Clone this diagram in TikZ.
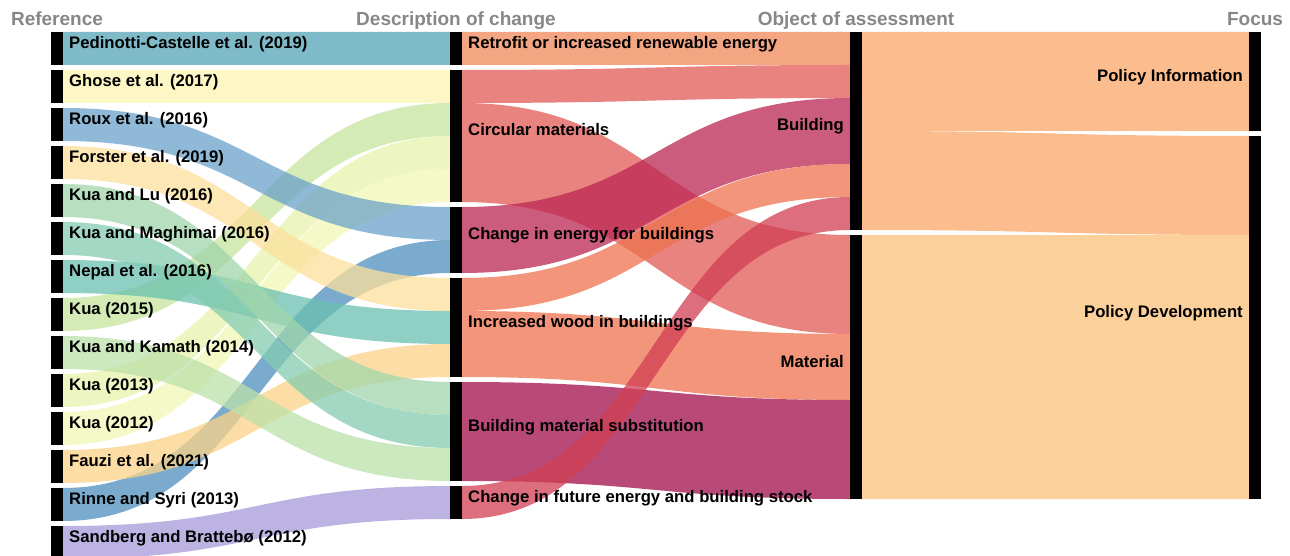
\documentclass[tikz,border=0pt]{standalone}
\usepackage{fontspec}
\setmainfont{Liberation Sans}
\usepackage{tikz}
\usetikzlibrary{positioning,backgrounds}

% reference colours
\definecolor{cPed}{RGB}{84,163,182}
\definecolor{cGho}{RGB}{251,244,176}
\definecolor{cRou}{RGB}{106,162,200}
\definecolor{cFor}{RGB}{252,224,156}
\definecolor{cKLu}{RGB}{160,214,171}
\definecolor{cKMa}{RGB}{132,204,176}
\definecolor{cNep}{RGB}{106,191,176}
\definecolor{cK15}{RGB}{198,228,158}
\definecolor{cKKa}{RGB}{187,224,168}
\definecolor{cK13}{RGB}{231,243,171}
\definecolor{cK12}{RGB}{242,247,182}
\definecolor{cFau}{RGB}{251,210,135}
\definecolor{cRin}{RGB}{78,142,188}
\definecolor{cSan}{RGB}{166,154,218}
% change colours
\definecolor{cRet}{RGB}{240,135,88}
\definecolor{cCir}{RGB}{224,90,85}
\definecolor{cEne}{RGB}{187,38,83}
\definecolor{cWoo}{RGB}{238,114,78}
\definecolor{cSub}{RGB}{162,14,75}
\definecolor{cFut}{RGB}{208,62,83}
% object colours
\definecolor{cBld}{RGB}{250,167,104}
\definecolor{cMat}{RGB}{250,192,122}
\definecolor{hdrgray}{RGB}{135,135,135}

% colour, source, source offset, target, target offset, units
\newcommand{\sflow}[6]{%
  \pgfmathsetmacro{\flowsa}{-#3*33}\pgfmathsetmacro{\flowsb}{-(#3+#6)*33}%
  \pgfmathsetmacro{\flowta}{-#5*33}\pgfmathsetmacro{\flowtb}{-(#5+#6)*33}%
  \fill[#1, ribbon] ([yshift=\flowsa]#2.north east) to[out=0, in=180, distance=194pt] ([yshift=\flowta]#4.north west)
    -- ([yshift=\flowtb]#4.north west) to[out=180, in=0, distance=194pt] ([yshift=\flowsb]#2.north east) -- cycle;}

\begin{document}
\begin{tikzpicture}[x=1pt, y=1pt, node distance=5pt,
    nodebar/.style={fill=black, inner sep=0pt, outer sep=0pt, minimum width=12pt, minimum height=#1*33pt},
    nodebar/.default=1,
    ribbon/.style={fill opacity=0.75},
    lbl/.style={font=\bfseries\fontsize{16.7}{20}\selectfont, anchor=base west, xshift=6pt, inner sep=0pt},
    lblr/.style={font=\bfseries\fontsize{16.7}{20}\selectfont, anchor=base east, xshift=-6pt, inner sep=0pt},
    hdr/.style={font=\bfseries\fontsize{19}{22}\selectfont, text=hdrgray, anchor=base, yshift=6pt, inner sep=0pt}]
    \useasboundingbox (0,0) rectangle (1290,-556);

    \node[nodebar] (pedinotti) at (57,-48.5) [label={[hdr]above:Reference}, label={[lbl]right:Pedinotti-Castelle et al. (2019)}] {};
    \node[nodebar] (ghose)    [below=of pedinotti, label={[lbl]right:Ghose et al. (2017)}] {};
    \node[nodebar] (roux)     [below=of ghose,     label={[lbl]right:Roux et al. (2016)}] {};
    \node[nodebar] (forster)  [below=of roux,      label={[lbl]right:Forster et al. (2019)}] {};
    \node[nodebar] (kualu)    [below=of forster,   label={[lbl]right:Kua and Lu (2016)}] {};
    \node[nodebar] (kuamag)   [below=of kualu,     label={[lbl]right:Kua and Maghimai (2016)}] {};
    \node[nodebar] (nepal)    [below=of kuamag,    label={[lbl]right:Nepal et al. (2016)}] {};
    \node[nodebar] (kua15)    [below=of nepal,     label={[lbl]right:Kua (2015)}] {};
    \node[nodebar] (kuakam)   [below=of kua15,     label={[lbl]right:Kua and Kamath (2014)}] {};
    \node[nodebar] (kua13)    [below=of kuakam,    label={[lbl]right:Kua (2013)}] {};
    \node[nodebar] (kua12)    [below=of kua13,     label={[lbl]right:Kua (2012)}] {};
    \node[nodebar] (fauzi)    [below=of kua12,     label={[lbl]right:Fauzi et al. (2021)}] {};
    \node[nodebar] (rinne)    [below=of fauzi,     label={[lbl]right:Rinne and Syri (2013)}] {};
    \node[nodebar] (sandberg) [below=of rinne,     label={[lbl]right:Sandberg and Brattebø (2012)}] {};

    \node[nodebar]   (retro)  at (456,-48.5) [label={[hdr]above:Description of change}, label={[lbl]right:Retrofit or increased renewable energy}] {};
    \node[nodebar=4] (circ)   [below=of retro,  label={[lbl]right:Circular materials}] {};
    \node[nodebar=2] (energy) [below=of circ,   label={[lbl]right:Change in energy for buildings}] {};
    \node[nodebar=3] (wood)   [below=of energy, label={[lbl]right:Increased wood in buildings}] {};
    \node[nodebar=3] (subst)  [below=of wood,   label={[lbl]right:Building material substitution}] {};
    \node[nodebar]   (future) [below=of subst,  label={[lbl]right:Change in future energy and building stock}] {};

    \node[nodebar=6] (bldg) at (856,-131) [label={[hdr]above:Object of assessment}, label={[lblr]left:Building}] {};
    \node[nodebar=8] (mat)  [below=of bldg, label={[lblr]left:Material}] {};

    \node[nodebar=3]  (pinfo) at (1255,-81.5) [label={[hdr]above:Focus}, label={[lblr]left:Policy Information}] {};
    \node[nodebar=11] (pdev)  [below=of pinfo, label={[lblr]left:Policy Development}] {};

    \begin{pgfonlayer}{background}
        \sflow{cPed}{pedinotti}{0}{retro}{0}{1}
        \sflow{cGho}{ghose}{0}{circ}{0}{1}
        \sflow{cK15}{kua15}{0}{circ}{1}{1}
        \sflow{cK13}{kua13}{0}{circ}{2}{1}
        \sflow{cK12}{kua12}{0}{circ}{3}{1}
        \sflow{cRou}{roux}{0}{energy}{0}{1}
        \sflow{cRin}{rinne}{0}{energy}{1}{1}
        \sflow{cFor}{forster}{0}{wood}{0}{1}
        \sflow{cNep}{nepal}{0}{wood}{1}{1}
        \sflow{cFau}{fauzi}{0}{wood}{2}{1}
        \sflow{cKLu}{kualu}{0}{subst}{0}{1}
        \sflow{cKMa}{kuamag}{0}{subst}{1}{1}
        \sflow{cKKa}{kuakam}{0}{subst}{2}{1}
        \sflow{cSan}{sandberg}{0}{future}{0}{1}

        \sflow{cRet}{retro}{0}{bldg}{0}{1}
        \sflow{cCir}{circ}{0}{bldg}{1}{1}
        \sflow{cCir}{circ}{1}{mat}{0}{3}
        \sflow{cEne}{energy}{0}{bldg}{2}{2}
        \sflow{cWoo}{wood}{0}{bldg}{4}{1}
        \sflow{cWoo}{wood}{1}{mat}{3}{2}
        \sflow{cSub}{subst}{0}{mat}{5}{3}
        \sflow{cFut}{future}{0}{bldg}{5}{1}

        \sflow{cBld}{bldg}{0}{pinfo}{0}{3}
        \sflow{cBld}{bldg}{3}{pdev}{0}{3}
        \sflow{cMat}{mat}{0}{pdev}{3}{8}
    \end{pgfonlayer}
\end{tikzpicture}
\end{document}
